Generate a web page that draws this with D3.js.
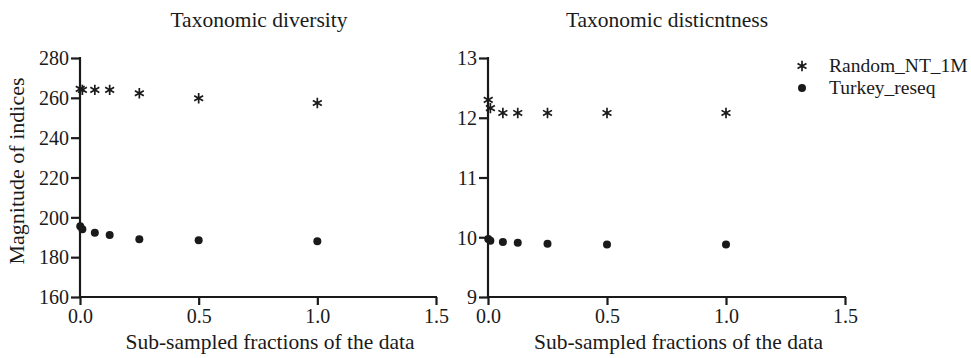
<!DOCTYPE html>
<html><head><meta charset="utf-8">
<script src="https://cdn.jsdelivr.net/npm/d3@7"></script>
<style>body{margin:0;background:#fff}svg text{font-family:"Liberation Serif","Times New Roman",Times,serif}</style>
</head><body>
<script>
const fractions = [0.001, 0.01, 0.0625, 0.125, 0.25, 0.5, 1.0];
const seriesNames = ["Random_NT_1M", "Turkey_reseq"];
const diversityRandom = [264.5, 264, 264, 264, 262.3, 259.8, 257.4];
const diversityTurkey = [195.5, 194, 192.3, 191.1, 189, 188.5, 188];
const distinctRandom = [12.30, 12.16, 12.08, 12.08, 12.08, 12.08, 12.08];
const distinctTurkey = [9.97, 9.94, 9.92, 9.91, 9.89, 9.88, 9.88];
const xTicks = [0.0, 0.5, 1.0, 1.5];
const yTicksLeft = [160, 180, 200, 220, 240, 260, 280];
const yTicksRight = [9, 10, 11, 12, 13];

const svg = d3.select("body").append("svg").attr("width", 971).attr("height", 358);
const ink = "#1a1a1a";

const panels = [
  {title: "Taxonomic diversity", x0: 80, x1: 436, dom: [160, 280], ticks: yTicksLeft, a: diversityRandom, b: diversityTurkey},
  {title: "Taxonomic disticntness", x0: 488, x1: 845, dom: [9, 13], ticks: yTicksRight, a: distinctRandom, b: distinctTurkey}
];
const yTop = 58, yBot = 297;
const star = d3.symbol().type(d3.symbolAsterisk).size(75);

panels.forEach((p, i) => {
  const x = d3.scaleLinear().domain([0, 1.5]).range([p.x0, p.x1]);
  const y = d3.scaleLinear().domain(p.dom).range([yBot, yTop]);
  const gx = svg.append("g").attr("transform", `translate(0,${yBot})`)
    .call(d3.axisBottom(x).tickValues(xTicks).tickFormat(d3.format(".1f")).tickSizeOuter(0).tickSize(8));
  const gy = svg.append("g").attr("transform", `translate(${p.x0},0)`)
    .call(d3.axisLeft(y).tickValues(p.ticks).tickFormat(d3.format("d")).tickSizeOuter(0).tickSize(9));
  [gx, gy].forEach(g => {
    g.attr("font-family", null);
    g.selectAll("path,line").attr("stroke", ink).attr("stroke-width", 2.2);
    g.selectAll("text").attr("font-size", 20).attr("fill", ink);
  });
  gx.select(".domain").attr("d", `M${p.x0 - 1},0H${p.x1 + 1}`);
  gy.select(".domain").attr("d", `M0,${yTop - 1}V${yBot + 1}`);
  gx.selectAll("text").attr("dy", null).attr("y", 26);
  gy.selectAll("text").attr("x", -11).attr("dy", "0.34em");
  svg.append("text").attr("x", i === 0 ? 259 : 667).attr("y", 27).attr("text-anchor", "middle")
    .attr("font-size", 21.5).attr("fill", ink).text(p.title);
  svg.append("text").attr("x", (p.x0 + p.x1) / 2 + 12).attr("y", 349).attr("text-anchor", "middle")
    .attr("font-size", 21.5).attr("fill", ink).text("Sub-sampled fractions of the data");
  svg.append("g").selectAll("path").data(fractions).join("path")
    .attr("transform", (d, j) => `translate(${x(d)},${y(p.a[j])})`)
    .attr("d", star).attr("fill", "none").attr("stroke", ink).attr("stroke-width", 1.7);
  svg.append("g").selectAll("circle").data(fractions).join("circle")
    .attr("cx", d => x(d)).attr("cy", (d, j) => y(p.b[j])).attr("r", 4).attr("fill", ink);
});

svg.append("text").attr("transform", "translate(24,171) rotate(-90)").attr("text-anchor", "middle")
  .attr("font-size", 22).attr("fill", ink).text("Magnitude of indices");

const leg = svg.append("g");
seriesNames.forEach((n, i) => {
  const yy = 66 + i * 22;
  if (i === 0) leg.append("path").attr("transform", `translate(802,${yy})`).attr("d", star)
    .attr("fill", "none").attr("stroke", ink).attr("stroke-width", 1.7);
  else leg.append("circle").attr("cx", 802).attr("cy", yy).attr("r", 4).attr("fill", ink);
  leg.append("text").attr("x", 829).attr("y", yy + 6).attr("font-size", 19.5).attr("fill", ink).text(n);
});
</script>
</body></html>
